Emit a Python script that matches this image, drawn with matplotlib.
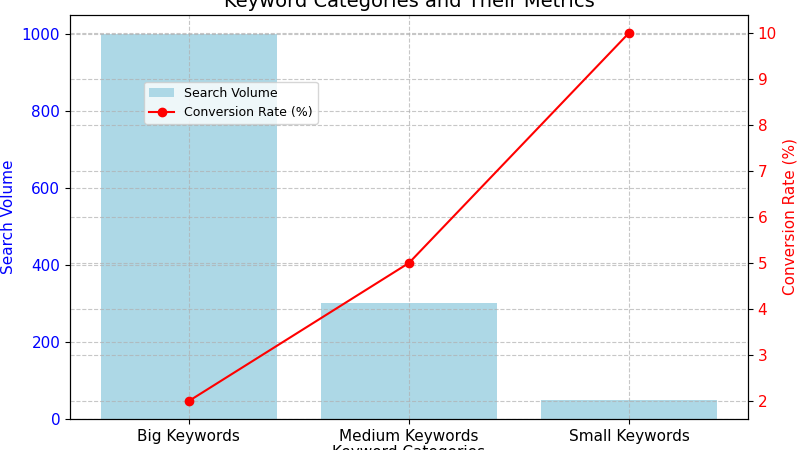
import matplotlib
matplotlib.use("Agg")
import matplotlib.pyplot as plt

categories = ["Big Keywords", "Medium Keywords", "Small Keywords"]
search_volume = [1000, 300, 50]
conversion_rate = [2, 5, 10]

fig = plt.figure(figsize=(8, 4.5), dpi=100)
ax = fig.add_axes([0.0875, 0.069, 0.8475, 0.898])
bars = ax.bar(categories, search_volume, color="lightblue", width=0.8, label="Search Volume")
ax.set_ylim(0, 1050)
ax.set_ylabel("Search Volume", color="blue", fontsize=11)
ax.tick_params(axis="y", labelcolor="blue", labelsize=11)
ax.tick_params(axis="x", labelsize=11)
ax.set_xlabel("Keyword Categories", fontsize=11, labelpad=1)
ax.set_title("Keyword Categories and Their Metrics", fontsize=14)
ax.grid(True, linestyle="--", alpha=0.7)

ax2 = ax.twinx()
line, = ax2.plot(categories, conversion_rate, color="red", marker="o", label="Conversion Rate (%)")
ax2.set_ylim(1.61, 10.39)
ax2.set_ylabel("Conversion Rate (%)", color="red", fontsize=11)
ax2.tick_params(axis="y", labelcolor="red", labelsize=11)
ax2.grid(True, linestyle="--", alpha=0.7)

ax.legend([bars, line], ["Search Volume", "Conversion Rate (%)"],
          loc="upper left", bbox_to_anchor=(0.1, 0.85), fontsize=9)
fig.savefig("out.png", dpi=100)
